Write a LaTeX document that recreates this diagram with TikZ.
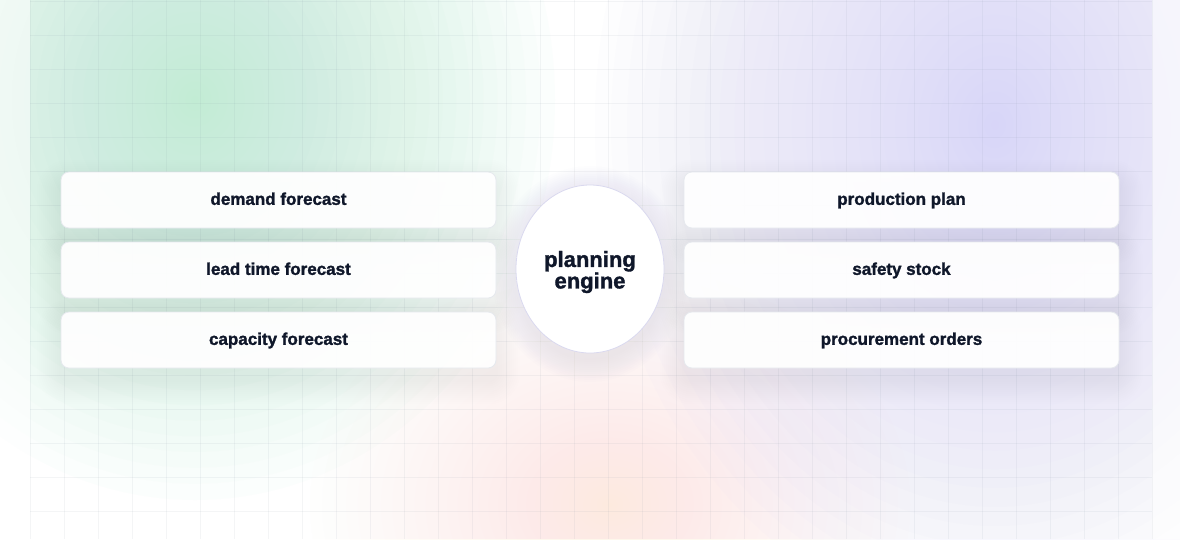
\documentclass[tikz,border=0pt]{standalone}
\usepackage{fontspec}
\setmainfont{Liberation Sans}
\newfontfamily\heavy[FakeBold=1.5]{Liberation Sans Bold}
\usetikzlibrary{shapes.geometric,calc}
\definecolor{ink}{HTML}{0F172A}
\definecolor{glowgreen}{HTML}{B8ECD2}
\definecolor{glowpurple}{HTML}{D8D5F8}
\definecolor{glowpeach}{HTML}{FDEACB}
\definecolor{cardborder}{HTML}{E6E9EE}
\definecolor{engedge}{HTML}{EDECFA}
\definecolor{engborder}{HTML}{DAD9EF}
\definecolor{enghalo}{HTML}{9C98CC}
\definecolor{gridcol}{HTML}{8090A0}
\pgfdeclareradialshading{engshade}{\pgfpointorigin}{color(0bp)=(white); color(28bp)=(white); color(50bp)=(engedge)}
\pgfdeclarelayer{bglayer}
\pgfdeclarelayer{shadowlayer}
\pgfsetlayers{bglayer,shadowlayer,main}
\tikzset{
  gridline/.style={draw=gridcol, draw opacity=0.085, line width=0.8pt},
  card/.style={rectangle, rounded corners=8pt, draw=cardborder, line width=0.8pt,
    fill=white, fill opacity=0.95, text opacity=1, text=ink,
    minimum width=435pt, minimum height=56pt, inner sep=0pt,
    text height=13.3pt, text depth=3.6pt,
    font=\fontsize{17}{20}\selectfont\heavy},
  engine/.style={ellipse, draw=engborder, line width=0.8pt, shading=engshade,
    minimum width=148pt, minimum height=168pt, inner sep=0pt, text=ink, align=center,
    font=\fontsize{22}{21.5}\selectfont\heavy},
  shadowpiece/.style={fill=black, fill opacity=0.0055},
  glowstep/.style={fill=#1, fill opacity=0.042}
}
\begin{document}
\begin{tikzpicture}[x=1pt,y=-1pt]
\useasboundingbox (0,0) rectangle (1180,539);
\begin{pgfonlayer}{bglayer}
\fill[white] (0,0) rectangle (1180,539);
% glows (stacked translucent ellipses)
\foreach \k in {1,...,32} {
  \pgfmathsetmacro\f{(\k/32)^1.3}
  \fill[glowstep=glowgreen] (195,100) ellipse ({360*\f} and {400*\f});
  \fill[glowstep=glowpurple] (995,125) ellipse ({400*\f} and {500*\f});
  \fill[glowstep=glowpeach, fill opacity=0.02] (610,505) ellipse ({300*\f} and {240*\f});
}
% outer strips lighter
\fill[white, opacity=0.55] (0,0) rectangle (30,539);
\fill[white, opacity=0.6] (1152,0) rectangle (1180,539);
% grid
\foreach \i in {0,...,33} { \draw[gridline] ({30+34*\i},0) -- ({30+34*\i},539); }
\foreach \j in {0,...,15} { \draw[gridline] (30,{1+34*\j}) -- (1152,{1+34*\j}); }
\end{pgfonlayer}
% cards
\node[card] (df) at (278.5,200) {demand forecast};
\node[card] (lt) at (278.5,270) {lead time forecast};
\node[card] (cf) at (278.5,340) {capacity forecast};
\node[card] (pp) at (901.5,200) {production plan};
\node[card] (ss) at (901.5,270) {safety stock};
\node[card] (po) at (901.5,340) {procurement orders};
% engine
\node[engine] (pe) at (590,269) {\rule{0pt}{22pt}planning\\engine};
\begin{pgfonlayer}{shadowlayer}
\foreach \n in {df,lt,cf,pp,ss,po} {
  \foreach \k in {1,...,12} {
    \fill[shadowpiece, rounded corners={8+2*\k}]
      ($(\n.north west)+({-2*\k},{12-2*\k})$) rectangle ($(\n.south east)+({2*\k},{12+2*\k})$);
  }
}
\foreach \k in {1,...,12} {
  \fill[enghalo, fill opacity=0.012] ($(pe.center)+(0,5)$) ellipse ({74+2*\k} and {84+2*\k});
}
\end{pgfonlayer}
\end{tikzpicture}
\end{document}
